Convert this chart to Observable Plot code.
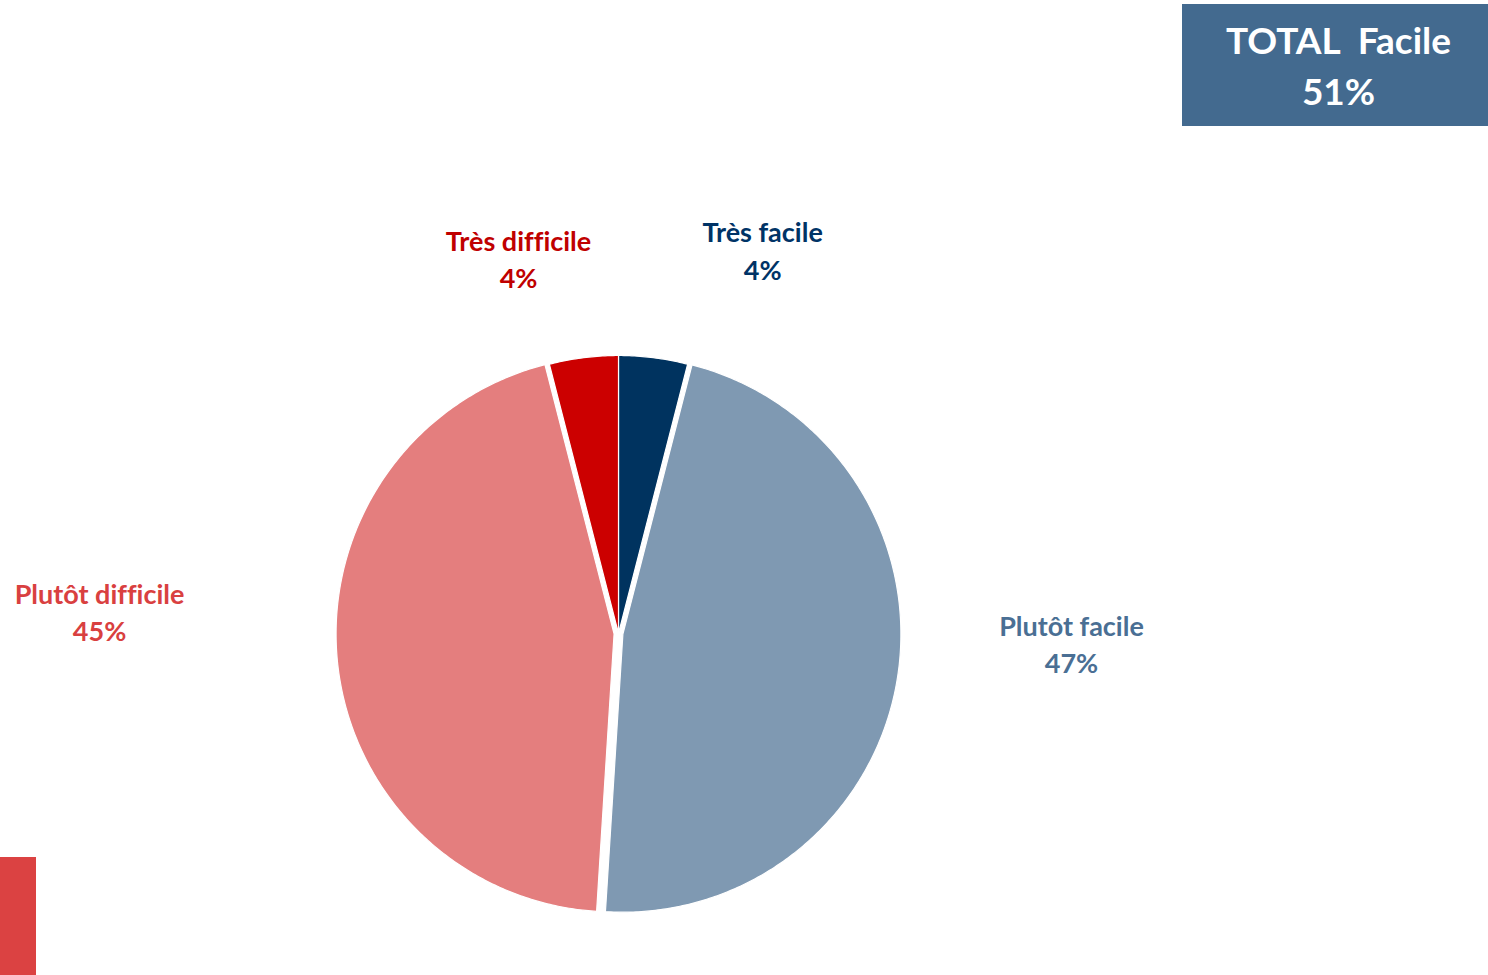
<!DOCTYPE html>
<html><head><meta charset="utf-8">
<script src="https://cdn.jsdelivr.net/npm/d3@7"></script>
<script src="https://cdn.jsdelivr.net/npm/@observablehq/plot@0.6"></script>
<style>
html,body{margin:0;padding:0;background:#fff;}
#wrap{position:relative;width:1488px;height:975px;overflow:hidden;font-family:Lato,"Open Sans",sans-serif;font-variant-ligatures:none;}
#total{position:absolute;left:1182px;top:4px;width:306px;height:122px;box-sizing:border-box;padding-left:7px;background:#436a8f;color:#fff;font-weight:700;font-size:37px;line-height:51px;text-align:center;display:flex;flex-direction:column;justify-content:center;}
#bar{position:absolute;left:0;top:857px;width:36px;height:118px;background:#db4242;}
#chart{position:absolute;left:0;top:0;}
#chart svg text{font-variant-ligatures:none;}
</style></head><body>
<div id="wrap"><div id="chart"></div><div id="total"></div><div id="bar"></div></div>
<script>
// ---- data ----
const categories = ["Très facile", "Plutôt facile", "Plutôt difficile", "Très difficile"];
const values = [4, 47, 45, 4];
const sliceColors = ["#00335f", "#7f99b2", "#e47e7e", "#cc0000"];
const labelColors = ["#003366", "#4a6f94", "#d94040", "#c00000"];
const totalTitle = "TOTAL\u00a0 Facile";
const totalValue = 51;

// ---- layout ----
const W = 1488, H = 975, CX = 618, CY = 633, R = 278;
const explode = [0, 0.016, 0.016, 0];
const labelAt = [[20.7, 1.467], [91.5, 1.63], [272.2, 1.868], [345, 1.389]]; // [angle deg from top, radius factor]

const arcs = d3.pie().sort(null).value(d => d.value)(categories.map((c, i) => ({name: c, value: values[i]})));
const pts = [];
arcs.forEach((a, i) => {
  const mid = (a.startAngle + a.endAngle) / 2;
  const ox = explode[i] * Math.sin(mid), oy = explode[i] * Math.cos(mid);
  const n = Math.max(8, Math.ceil((a.endAngle - a.startAngle) / 0.01));
  pts.push({name: a.data.name, x: ox, y: oy});
  for (let k = 0; k <= n; k++) {
    const t = a.startAngle + (a.endAngle - a.startAngle) * k / n;
    pts.push({name: a.data.name, x: ox + Math.sin(t), y: oy + Math.cos(t)});
  }
  pts.push({name: a.data.name, x: ox, y: oy});
});

const labels = categories.map((c, i) => {
  const t = labelAt[i][0] * Math.PI / 180, f = labelAt[i][1];
  return {text: c + "\n" + values[i] + "%", x: f * Math.sin(t), y: f * Math.cos(t)};
});

const chart = Plot.plot({
  width: W, height: H, margin: 0,
  x: {domain: [-CX / R, (W - CX) / R], range: [0, W], axis: null},
  y: {domain: [-(H - CY) / R, CY / R], range: [H, 0], axis: null},
  color: {domain: categories, range: sliceColors},
  style: {fontFamily: "Lato, 'Open Sans', sans-serif", background: "transparent"},
  marks: [
    Plot.line(pts, {x: "x", y: "y", z: "name", fill: "name", stroke: "white", strokeWidth: 1.2, strokeLinejoin: "round"}),
    ...labels.map((l, i) => Plot.text([l], {x: "x", y: "y", dy: -3, text: "text", fill: labelColors[i], fontSize: 27, fontWeight: "bold", lineHeight: 1.38, lineAnchor: "middle"}))
  ]
});
document.getElementById("chart").appendChild(chart);
document.getElementById("total").innerHTML = totalTitle + "<br>" + totalValue + "%";
</script>
</body></html>
